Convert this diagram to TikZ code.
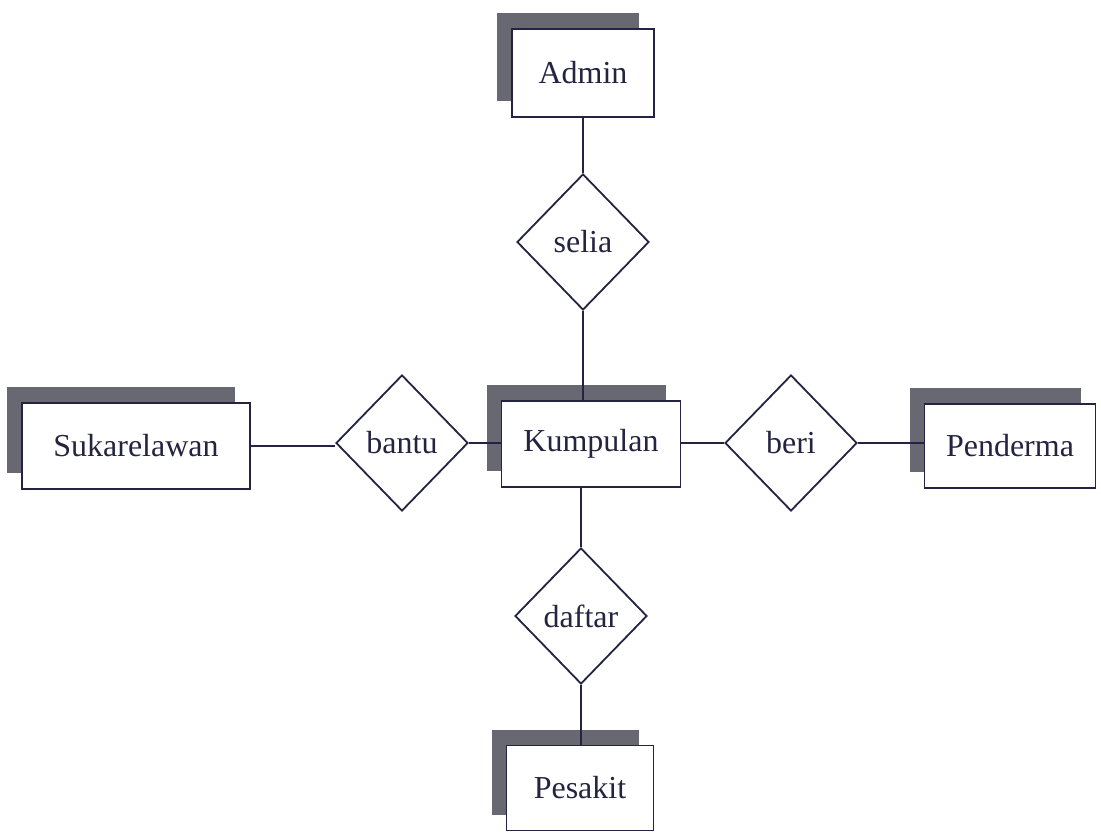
\documentclass[tikz,border=0pt]{standalone}
\usepackage{fontspec}
\setmainfont{Liberation Serif}
\usetikzlibrary{shapes.geometric,shadows}
\definecolor{ink}{RGB}{36,36,66}
\definecolor{shade}{RGB}{104,104,114}
\begin{document}
\begin{tikzpicture}[x=1pt,y=-1pt,
  entity/.style={draw=ink, line width=1.8pt, fill=white, text=ink, inner sep=0pt,
    font=\fontsize{32}{38}\selectfont, minimum height=86pt,
    drop shadow={shadow xshift=-15pt, shadow yshift=16pt, fill=shade, opacity=1, draw=none}},
  rel/.style={diamond, draw=ink, line width=1.8pt, fill=white, text=ink, inner sep=0pt,
    minimum width=132pt, minimum height=136pt, font=\fontsize{32}{38}\selectfont},
  link/.style={draw=ink, line width=1.8pt}]
\useasboundingbox (0,0) rectangle (1101,834);
\fill[white] (0,0) rectangle (1101,834);

\node[entity, minimum width=142pt, minimum height=88pt] (admin) at (583,73) {Admin};
\node[entity, minimum width=228pt] (suka) at (136,446) {Sukarelawan};
\node[entity, minimum width=179pt] (kump) at (591,444) {Kumpulan};
\node[entity, minimum width=171pt, minimum height=84pt] (pend) at (1010,446) {Penderma};
\node[entity, minimum width=147pt, minimum height=85pt] (pesa) at (580,788) {Pesakit};

\node[rel] (selia) at (583,242) {selia};
\node[rel] (bantu) at (402,443) {bantu};
\node[rel] (beri) at (791,443) {beri};
\node[rel] (daftar) at (581,616) {daftar};

\draw[link] (admin.south) -- (selia.north);
\draw[link] (selia.south) -- (selia.south |- kump.north);
\draw[link] (suka.east) -- (suka.east -| bantu.west);
\draw[link] (bantu.east) -- (bantu.east -| kump.west);
\draw[link] (kump.east |- beri.west) -- (beri.west);
\draw[link] (beri.east) -- (beri.east -| pend.west);
\draw[link] (daftar.north |- kump.south) -- (daftar.north);
\draw[link] (daftar.south) -- (daftar.south |- pesa.north);
\end{tikzpicture}
\end{document}
